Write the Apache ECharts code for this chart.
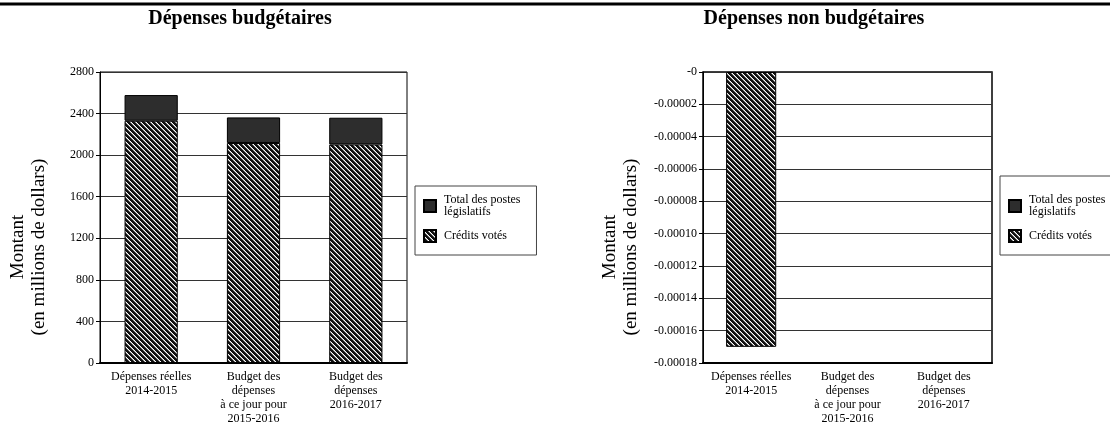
<!DOCTYPE html>
<html>
<head>
<meta charset="utf-8">
<script src="https://cdn.jsdelivr.net/npm/echarts@6/dist/echarts.min.js"></script>
<style>
html,body{margin:0;padding:0;background:#fff;}
#main{width:1110px;height:426px;}
</style>
</head>
<body>
<div id="main"></div>
<script>
// ---- data ----
const categories = ['Dépenses réelles\n2014-2015', 'Budget des\ndépenses\nà ce jour pour\n2015-2016', 'Budget des\ndépenses\n2016-2017'];
const seriesNames = ['Total des postes législatifs', 'Crédits votés'];
const budgCredits = [2331, 2117, 2103];
const budgStatutory = [247, 246, 257];
const nonBudgCredits = [-0.00017, 0, 0];
const nonBudgStatutory = [0, 0, 0];
const budgTicks = { min: 0, max: 2800, interval: 400 };
const nonBudgTicks = { min: -0.00018, max: 0, interval: 0.00002 };
const titles = ['Dépenses budgétaires', 'Dépenses non budgétaires'];
const yAxisTitle = 'Montant\n(en millions de dollars)';

// ---- hatch pattern ----
function makeHatch() {
  const n = 5;
  const c = document.createElement('canvas');
  c.width = n; c.height = n;
  const ctx = c.getContext('2d');
  for (let y = 0; y < n; y++) {
    for (let x = 0; x < n; x++) {
      const d = ((x - y) % n + n) % n;
      ctx.fillStyle = d < 3 ? '#111' : (d === 3 ? '#888' : '#fff');
      ctx.fillRect(x, y, 1, 1);
    }
  }
  return c;
}
const hatch = { image: makeHatch(), repeat: 'repeat' };
const FONT = "'Liberation Serif', 'Times New Roman', serif";
const dark = '#2d2d2d';

const chart = echarts.init(document.getElementById('main'), null, { renderer: 'canvas' });

function yAxisCfg(gridIndex, t, fmt) {
  return {
    type: 'value', gridIndex, min: t.min, max: t.max, interval: t.interval,
    axisLine: { show: true, lineStyle: { color: '#000', width: 1 } },
    axisTick: { show: true, inside: false, length: 4, lineStyle: { color: '#000' } },
    axisLabel: { color: '#000', fontFamily: FONT, fontSize: 12, margin: 6, formatter: fmt },
    splitLine: { show: true, lineStyle: { color: '#333', width: 1 } }
  };
}
function xAxisCfg(gridIndex) {
  return {
    type: 'category', gridIndex, data: categories, position: 'bottom',
    axisLine: { show: true, onZero: false, lineStyle: { color: '#000', width: 2 } },
    axisTick: { show: false },
    axisLabel: { color: '#000', fontFamily: FONT, fontSize: 12, lineHeight: 14, margin: 7, interval: 0 }
  };
}
// zero-valued entries draw no bar at all
function barSeries(name, data, idx, color, stack) {
  return {
    type: 'bar', name, data: data.map(v => (v === 0 ? null : v)), xAxisIndex: idx, yAxisIndex: idx, stack,
    barWidth: '52%',
    itemStyle: { color, borderColor: '#000', borderWidth: 1 },
    emphasis: { disabled: true }
  };
}
function legendCfg(left, top, padding) {
  return {
    orient: 'vertical', left, top, padding,
    data: [seriesNames[0], seriesNames[1]],
    icon: 'rect', itemWidth: 12, itemHeight: 12, itemGap: 11,
    borderColor: '#444', borderWidth: 1,
    textStyle: { fontFamily: FONT, fontSize: 12, lineHeight: 12, color: '#000', padding: [0, 0, 0, 3] },
    formatter: n => n.replace('postes ', 'postes\n'),
    selectedMode: false
  };
}

chart.setOption({
  animation: false,
  grid: [
    { left: 100, top: 72, width: 307, height: 295, show: true, borderColor: '#000', borderWidth: 1, containLabel: false },
    { left: 703, top: 72, width: 289, height: 295, show: true, borderColor: '#000', borderWidth: 1.5, containLabel: false }
  ],
  xAxis: [xAxisCfg(0), xAxisCfg(1)],
  yAxis: [
    yAxisCfg(0, budgTicks, v => String(v)),
    yAxisCfg(1, nonBudgTicks, v => Math.abs(v) < 1e-12 ? '-0' : v.toFixed(5))
  ],
  legend: [
    legendCfg(415, 186, [8, 16, 12, 8]),
    legendCfg(1000, 176, [18, 16, 12, 8])
  ],
  series: [
    barSeries(seriesNames[1], budgCredits, 0, hatch, 'b'),
    barSeries(seriesNames[0], budgStatutory, 0, dark, 'b'),
    barSeries(seriesNames[1], nonBudgCredits, 1, hatch, 'n'),
    barSeries(seriesNames[0], nonBudgStatutory, 1, dark, 'n')
  ],
  graphic: [
    { type: 'line', shape: { x1: 0, y1: 4, x2: 1110, y2: 4 }, style: { stroke: '#000', lineWidth: 3 } },
    { type: 'text', x: 240, y: 19, style: { text: titles[0], font: "bold 20px 'Liberation Serif', serif", textAlign: 'center', textVerticalAlign: 'middle', fill: '#000' } },
    { type: 'text', x: 814, y: 19, style: { text: titles[1], font: "bold 20px 'Liberation Serif', serif", textAlign: 'center', textVerticalAlign: 'middle', fill: '#000' } },
    { type: 'text', x: 29, y: 247, rotation: Math.PI / 2, style: { text: yAxisTitle, font: "19px 'Liberation Serif', serif", lineHeight: 21, textAlign: 'center', textVerticalAlign: 'middle', fill: '#000' } },
    { type: 'text', x: 621, y: 247, rotation: Math.PI / 2, style: { text: yAxisTitle, font: "19px 'Liberation Serif', serif", lineHeight: 21, textAlign: 'center', textVerticalAlign: 'middle', fill: '#000' } }
  ]
});
</script>
</body>
</html>
